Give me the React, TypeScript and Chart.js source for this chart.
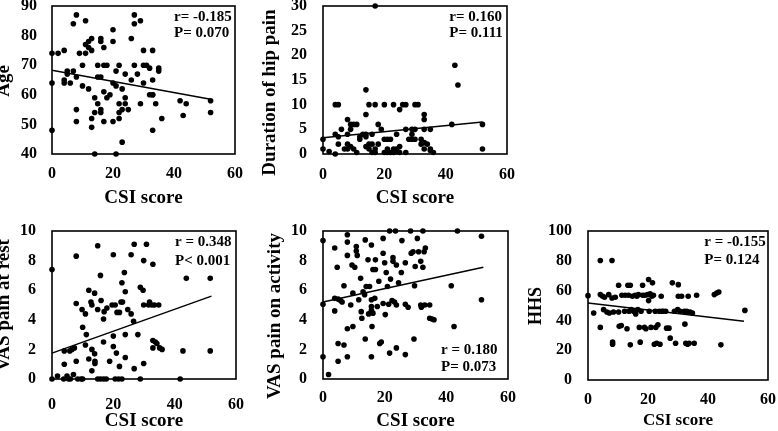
import React, { useEffect, useRef } from "react";
import { Chart, registerables } from "chart.js";

Chart.register(...registerables);

const FONT = "'Liberation Serif', 'Times New Roman', serif";

// ---------- DATA ----------
const csiAge = [0, 2, 0, 0, 4, 4, 4, 5, 5, 6, 7, 7, 8, 8, 8, 8, 9, 10, 10, 11, 11, 11, 12, 12, 12, 13, 13, 13, 13, 14, 14, 14, 15, 15, 16, 15, 16, 16, 16, 16, 17, 17, 17, 17, 18, 18, 19, 20, 20, 20, 20, 21, 21, 21, 22, 22, 22, 22, 23, 23, 23, 24, 24, 24, 25, 26, 26, 27, 27, 27, 28, 29, 29, 30, 30, 30, 31, 32, 32, 33, 33, 33, 33, 33, 34, 35, 35, 36, 42, 43, 44, 52, 52];
const age = [74, 74, 64, 48, 75, 65, 64, 68, 67, 64, 68, 84, 87, 66, 55, 51, 74, 70, 63, 85, 74, 77, 78, 62, 76, 79, 75, 52, 49, 59, 54, 40, 70, 66, 66, 57, 55, 54, 79, 78, 76, 70, 61, 51, 70, 59, 60, 82, 78, 64, 51, 63, 68, 40, 70, 57, 54, 52, 62, 44, 55, 67, 59, 57, 55, 79, 65, 87, 84, 70, 67, 85, 57, 75, 64, 70, 70, 69, 60, 60, 75, 65, 60, 48, 57, 69, 68, 52, 58, 53, 57, 58, 54];
const ageTrendX = [0, 52];
const ageTrendY = [68.3, 58.5];
const ageStats = ["r= -0.185", "P= 0.070"];

const csiDuration = [0, 0, 2, 4, 4, 4, 5, 5, 5, 6, 7, 8, 8, 8, 8, 9, 9, 10, 9, 10, 11, 11, 12, 12, 13, 14, 14, 14, 14, 14, 15, 15, 15, 16, 16, 16, 17, 17, 17, 17, 18, 18, 19, 20, 20, 20, 21, 21, 21, 22, 22, 23, 23, 23, 24, 24, 24, 25, 25, 25, 26, 27, 27, 27, 28, 29, 29, 29, 30, 30, 30, 31, 32, 32, 33, 33, 33, 33, 33, 34, 35, 35, 35, 36, 42, 43, 44, 52, 52];
const duration = [3, 1, 0.5, 4, 0, 10, 10, 3.5, 2, 5, 1, 7, 4, 2, 1, 1.5, 6, 6, 5, 1, 6, 0.3, 3, 3.5, 4, 3.5, 13, 8, 4, 1.5, 10, 2, 1, 2, 0.3, 4, 30, 1, 0.3, 10, 6, 2, 5, 10, 3, 0.3, 3, 0.3, 1, 3, 0.3, 10, 1, 0.3, 4, 0.5, 1, 0.3, 9, 1.5, 10, 10, 5, 0.3, 3, 3, 4, 5, 10, 3, 5, 10, 2, 3, 8, 7, 5, 2.3, 1, 2, 5, 1, 0.7, 0.3, 6, 18, 14, 6, 1];
const durationTrendX = [0, 52];
const durationTrendY = [3.3, 6.5];
const durationStats = ["r= 0.160", "P= 0.111"];

const csiRest = [0, 0, 1.8, 3.8, 4, 4, 4.9, 5.4, 6, 5.8, 6.5, 7, 7.3, 7.9, 7.9, 7.9, 8.4, 9.5, 10, 9.8, 10, 10.9, 11.2, 10.9, 12, 12, 12.7, 13, 13, 13, 13.9, 13.9, 14, 14, 14.9, 14.9, 14.9, 15.8, 15.8, 16, 16.8, 17, 16.8, 16.8, 17.7, 17.9, 18.8, 19.6, 20, 20, 20, 20.6, 21, 20.6, 21.2, 21.7, 22, 22, 22.5, 22.8, 22.8, 23, 23.6, 23.9, 23.9, 23.9, 24.7, 25.8, 25.8, 26.6, 26.8, 26.8, 28, 28.8, 28.8, 29.7, 29.9, 29.9, 29.9, 30.8, 31.5, 31.8, 32.6, 32.9, 32.9, 32.9, 33.4, 33.7, 34.2, 34.8, 35.1, 35.9, 41.8, 42.7, 43.8, 51.6, 51.6];
const vasRest = [7.4, 0, 0.2, 0, 1, 1.9, 0.2, 0, 0, 1.9, 2, 0.3, 2.1, 8.3, 5.1, 1.2, 0, 0, 0, 4.7, 3.5, 4.4, 3, 2.3, 6, 1.35, 5.2, 5, 2, 0.55, 5.8, 1.7, 1.2, 1.05, 9, 4.7, 0, 0, 7, 5.3, 4.05, 4.55, 2.5, 0, 0, 4.8, 1.2, 5, 8.4, 2.9, 2.2, 5, 1.75, 0, 4.5, 0, 4.5, 0.85, 5.2, 0, 6.5, 5.2, 7.2, 5.9, 3, 1.45, 4.7, 8.4, 4.4, 3.9, 0.7, 9.1, 3, 0, 6.2, 6, 8, 5, 1.05, 9.1, 5, 5.2, 5, 7.75, 2.6, 2.1, 5, 2.5, 2.4, 5, 2.1, 2, 0, 1.9, 6.8, 6.8, 1.9];
const restTrendX = [0, 52];
const restTrendY = [1.75, 5.6];
const restStats = ["r = 0.348", "P< 0.001"];

const csiActivity = [0, 0, 0, 1.8, 3.8, 3.8, 3.8, 4.6, 4.9, 4.9, 4.9, 5.7, 6.2, 6.8, 6.8, 7.9, 7.9, 7.9, 7.9, 7.9, 9, 9.4, 9.7, 9.7, 10.3, 10.8, 10.8, 11.1, 11.6, 12.2, 12.4, 12.6, 13, 13.5, 13.7, 13.7, 14, 14.6, 14.8, 15.1, 15.7, 15.7, 15.7, 15.7, 15.7, 15.9, 16.2, 16.2, 16.8, 17, 17, 17.6, 18.1, 18.4, 18.9, 19.5, 19.5, 19.5, 20, 20.2, 20.5, 20.9, 21.3, 21.6, 21.9, 21.6, 22.4, 22.7, 22.7, 23.2, 23.5, 23.8, 23.8, 23.8, 24.5, 25.4, 25.6, 26.7, 26.7, 26.7, 27.6, 28.4, 28.6, 29.2, 29.7, 29.5, 29.9, 30.6, 31, 31.7, 31.7, 31.9, 32.4, 32.4, 32.8, 33.2, 33, 34.6, 34.6, 35.4, 36, 41.6, 42.5, 43.6, 51.4, 51.4];
const vasActivity = [9.35, 5.05, 1.5, 0.3, 8.85, 5.45, 4.6, 7.55, 5.4, 2.4, 1.2, 5.3, 5.2, 6.3, 2.3, 9.75, 9.25, 8.35, 3.4, 1.5, 5, 7.7, 5.8, 3.55, 7.55, 8.95, 8.65, 8.35, 5.35, 6.8, 4.55, 4.1, 5.9, 5.7, 9.4, 2.7, 6.25, 8.05, 4.4, 6.25, 9.05, 5.35, 4.9, 4.65, 1.5, 3.55, 7.4, 4.45, 5.45, 8.05, 7.4, 4.9, 6.6, 2.4, 2.5, 9.5, 8.5, 5.1, 7.85, 4.35, 7.2, 6.25, 5.05, 1.75, 6.75, 10, 5.3, 8.2, 7.95, 5.2, 10, 7.7, 5, 2.1, 6.5, 7.2, 9.35, 7.85, 5.05, 1.65, 4.85, 10, 8.5, 8.6, 6.3, 2.7, 7.6, 9.5, 8.6, 7.95, 5, 4.85, 7.55, 10, 8.6, 8.85, 5, 5, 4.1, 4.05, 4, 6.3, 3.55, 10, 9.65, 5.35];
const activityTrendX = [0, 52];
const activityTrendY = [5.2, 7.55];
const activityStats = ["r = 0.180", "P= 0.073"];

const csiHhs = [0, 1.9, 4.1, 4.1, 4.1, 4.9, 5.2, 5.5, 6.3, 6.9, 7.1, 8, 8, 8.2, 8.2, 8.5, 9.1, 10.2, 10.2, 10.4, 11.1, 11.3, 12.2, 12.4, 13, 13.3, 13.5, 13.7, 14.1, 14.1, 14.4, 14.8, 15.2, 15.7, 15.9, 16.3, 16.6, 16.8, 17.1, 17.4, 17.7, 18.2, 18.2, 18.8, 19, 19.3, 19.9, 20.2, 20.2, 20.4, 20.7, 21, 21.3, 21.5, 21.8, 22.1, 22.4, 22.6, 22.9, 23.3, 23.7, 24, 24.4, 24.6, 25.1, 25.9, 26.2, 27, 27.4, 28.1, 28.8, 29.2, 29.9, 30.1, 30.1, 30.7, 31.2, 32.1, 32.3, 32.6, 32.9, 33.2, 33.4, 33.7, 34, 34.8, 35.4, 36.2, 42.1, 42.9, 43.6, 44.3, 52.3];
const hhs = [56.6, 45, 80.2, 57.3, 35.3, 56.2, 47.2, 55.5, 45.6, 57.3, 45, 80.2, 55, 25.4, 24, 45.6, 55.5, 63.6, 45.6, 36, 36.6, 56.9, 46.1, 56.9, 34.4, 63.6, 56.9, 46.1, 63.6, 23.6, 47.2, 56.2, 46.1, 56.9, 44.3, 56.2, 47.2, 57.3, 35.3, 25.4, 46.1, 56.9, 63.6, 35.3, 56.9, 34.4, 57.3, 67.4, 53.3, 46.1, 57.8, 35.3, 56.2, 65.2, 56.9, 24, 46.1, 35.3, 24.7, 37, 46.1, 24, 56.2, 46.1, 46.1, 46.1, 34.8, 34.8, 28.1, 65.2, 46.1, 24.7, 47.2, 64, 56.2, 46.1, 56.2, 46.1, 37.5, 24.7, 46.1, 24, 56.2, 24.7, 45.6, 45, 24.7, 56.9, 57.3, 58.4, 59.1, 23.6, 46.7];
const hhsTrendX = [0, 52];
const hhsTrendY = [51.7, 39.4];
const hhsStats = ["r = -0.155", "P= 0.124"];

const xAxisTitle = "CSI score";
const csiRange = [0, 60, 20];
const ageRange = [40, 90, 10];
const durationRange = [0, 30, 5];
const vasRange = [0, 10, 2];
const hhsRange = [0, 100, 20];

// ---------- PANELS (layout only) ----------
type Layout = {
  cx: number; cy: number; cw: number; ch: number;
  L: number; T: number; R: number; B: number;
  yTickPad: number; xTickPad: number;
  xTitleY: number; xTitleSize: number;
  yTitleOff: number; yTitleShift: number; yTitleSize: number;
  statX: number; statY: number[];
};
type PanelDef = {
  xs: number[]; ys: number[]; tx: number[]; ty: number[];
  yTitle: string; stats: string[]; yRange: number[];
  layout: Layout;
};

const panels: PanelDef[] = [
  {
    xs: csiAge, ys: age, tx: ageTrendX, ty: ageTrendY, yTitle: "Age", stats: ageStats, yRange: ageRange,
    layout: { cx: 0, cy: 0, cw: 262, ch: 214, L: 52, T: 6, R: 235, B: 154, yTickPad: 15, xTickPad: 12, xTitleY: 198, xTitleSize: 19, yTitleOff: 47.5, yTitleShift: 1, yTitleSize: 19, statX: 122, statY: [10.7, 27.3] },
  },
  {
    xs: csiDuration, ys: duration, tx: durationTrendX, ty: durationTrendY, yTitle: "Duration of hip pain", stats: durationStats, yRange: durationRange,
    layout: { cx: 262, cy: 0, cw: 260, ch: 214, L: 323, T: 6, R: 507, B: 154, yTickPad: 16, xTickPad: 13, xTitleY: 198, xTitleSize: 19, yTitleOff: 52.5, yTitleShift: 12.5, yTitleSize: 19, statX: 126.3, statY: [10.7, 27.3] },
  },
  {
    xs: csiRest, ys: vasRest, tx: restTrendX, ty: restTrendY, yTitle: "VAS pain at rest", stats: restStats, yRange: vasRange,
    layout: { cx: 0, cy: 214, cw: 262, ch: 217, L: 52, T: 231, R: 236, B: 379, yTickPad: 16, xTickPad: 17.5, xTitleY: 421, xTitleSize: 19, yTitleOff: 47.5, yTitleShift: 0, yTitleSize: 19, statX: 123, statY: [11.3, 29.7] },
  },
  {
    xs: csiActivity, ys: vasActivity, tx: activityTrendX, ty: activityTrendY, yTitle: "VAS pain on activity", stats: activityStats, yRange: vasRange,
    layout: { cx: 262, cy: 214, cw: 260, ch: 217, L: 323, T: 231, R: 508, B: 379, yTickPad: 16, xTickPad: 11, xTitleY: 421, xTitleSize: 19, yTitleOff: 47.8, yTitleShift: 11, yTitleSize: 19, statX: 118, statY: [119, 136.3] },
  },
  {
    xs: csiHhs, ys: hhs, tx: hhsTrendX, ty: hhsTrendY, yTitle: "HHS", stats: hhsStats, yRange: hhsRange,
    layout: { cx: 522, cy: 214, cw: 256, ch: 217, L: 588, T: 231, R: 768, B: 380, yTickPad: 16, xTickPad: 12, xTitleY: 421, xTitleSize: 17, yTitleOff: 52, yTitleShift: 0.5, yTitleSize: 18, statX: 116.3, statY: [10.7, 29] },
  },
];

function Panel({ p }: { p: PanelDef }) {
  const ref = useRef<HTMLCanvasElement>(null);
  const lay = p.layout;
  const padLeft = lay.L - lay.cx;
  const padTop = lay.T - lay.cy;
  const padRight = lay.cx + lay.cw - lay.R;
  const xAxisH = lay.cy + lay.ch - lay.B;
  const xTitlePadBottom = Math.max(0, lay.cy + lay.ch - lay.xTitleY - lay.xTitleSize / 2);

  useEffect(() => {
    const canvas = ref.current;
    if (!canvas) return;
    const decor = {
      id: "decor",
      afterDraw(chart: any) {
        const ctx = chart.ctx;
        const a = chart.chartArea;
        ctx.save();
        ctx.strokeStyle = "#000";
        ctx.lineWidth = 1.6;
        ctx.strokeRect(a.left, a.top, a.right - a.left, a.bottom - a.top);
        ctx.restore();

        ctx.save();
        ctx.fillStyle = "#000";
        ctx.font = `bold ${lay.yTitleSize}px ${FONT}`;
        ctx.textAlign = "center";
        ctx.textBaseline = "middle";
        ctx.translate(a.left - lay.yTitleOff, (a.top + a.bottom) / 2 + lay.yTitleShift);
        ctx.rotate(-Math.PI / 2);
        ctx.fillText(p.yTitle, 0, 0);
        ctx.restore();

        ctx.save();
        ctx.fillStyle = "#000";
        ctx.font = `bold 15px ${FONT}`;
        ctx.textAlign = "left";
        ctx.textBaseline = "middle";
        p.stats.forEach((s, i) => ctx.fillText(s, a.left + lay.statX, a.top + lay.statY[i]));
        ctx.restore();
      },
    };
    const tickFont = { family: FONT, size: 16, weight: "bold" as const, lineHeight: 1 };
    const chart = new Chart(canvas, {
      type: "scatter",
      data: {
        datasets: [
          {
            data: p.xs.map((x, i) => ({ x, y: p.ys[i] })),
            pointRadius: 2.8,
            pointHoverRadius: 2.8,
            backgroundColor: "#000",
            borderWidth: 0,
            clip: false,
          } as any,
          {
            data: p.tx.map((x, i) => ({ x, y: p.ty[i] })),
            showLine: true,
            borderColor: "#000",
            borderWidth: 1.5,
            pointRadius: 0,
            clip: false,
          } as any,
        ],
      },
      options: {
        responsive: false,
        animation: false,
        layout: { autoPadding: false, padding: { left: 0, top: padTop, right: padRight, bottom: 0 } },
        plugins: { legend: { display: false }, tooltip: { enabled: false } },
        scales: {
          x: {
            type: "linear",
            min: csiRange[0],
            max: csiRange[1],
            ticks: { stepSize: csiRange[2], padding: lay.xTickPad, font: tickFont, color: "#000" },
            grid: { display: false, drawTicks: false },
            border: { display: false },
            title: {
              display: true,
              text: xAxisTitle,
              color: "#000",
              font: { family: FONT, size: lay.xTitleSize, weight: "bold", lineHeight: 1 },
              padding: { top: 0, bottom: xTitlePadBottom },
            },
            afterFit: (s: any) => {
              s.height = xAxisH;
              s.paddingLeft = 0;
              s.paddingRight = 0;
            },
          },
          y: {
            type: "linear",
            min: p.yRange[0],
            max: p.yRange[1],
            ticks: { stepSize: p.yRange[2], padding: lay.yTickPad, font: tickFont, color: "#000" },
            grid: { display: false, drawTicks: false },
            border: { display: false },
            afterFit: (s: any) => {
              s.width = padLeft;
              s.paddingTop = 0;
              s.paddingBottom = 0;
            },
          },
        },
      } as any,
      plugins: [decor],
    });
    return () => chart.destroy();
  }, []);

  return (
    <canvas
      ref={ref}
      width={lay.cw}
      height={lay.ch}
      style={{ position: "absolute", left: lay.cx, top: lay.cy }}
    />
  );
}

export default function App() {
  return (
    <div style={{ position: "absolute", left: 0, top: 0, width: 778, height: 431 }}>
      {panels.map((p, i) => (
        <Panel key={i} p={p} />
      ))}
    </div>
  );
}
